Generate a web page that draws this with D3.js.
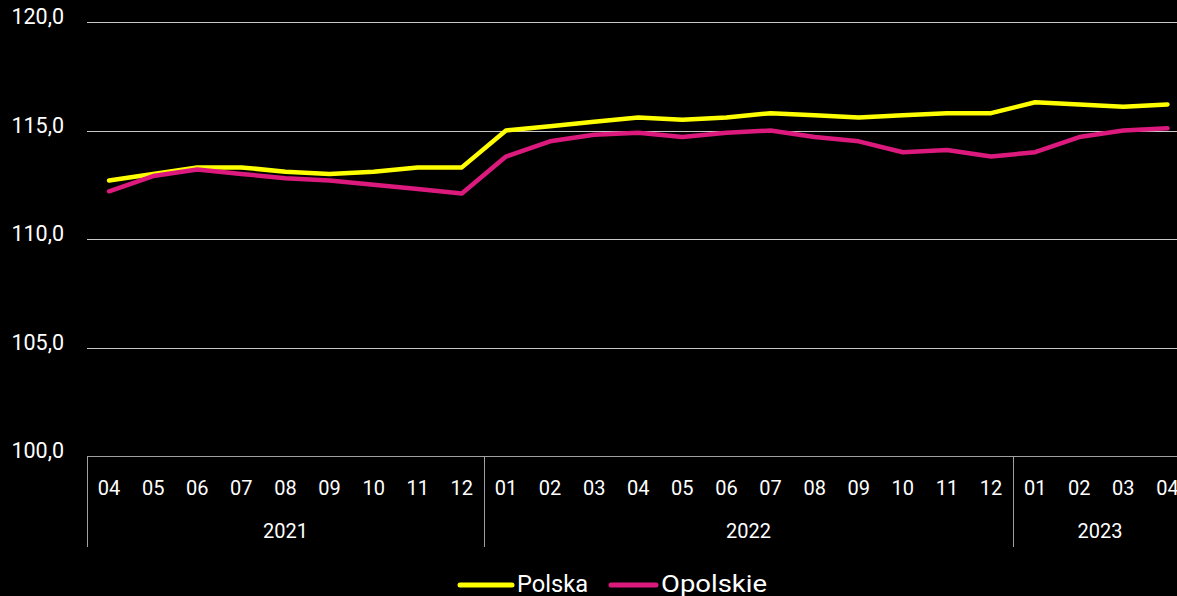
<!DOCTYPE html>
<html>
<head>
<meta charset="utf-8">
<script src="https://cdn.jsdelivr.net/npm/d3@7"></script>
<style>
  html, body { margin: 0; padding: 0; background: #000; }
  svg text { font-family: "Roboto", "Noto Sans", sans-serif; fill: #fff; }
</style>
</head>
<body>
<div id="chart"></div>
<script>
const months = ["04","05","06","07","08","09","10","11","12",
                "01","02","03","04","05","06","07","08","09","10","11","12",
                "01","02","03","04"]
const years = [
  {label: "2021", count: 9},
  {label: "2022", count: 12},
  {label: "2023", count: 4}
]
const polska = [112.7,113.0,113.3,113.3,113.1,113.0,113.1,113.3,113.3,
                115.0,115.2,115.4,115.6,115.5,115.6,115.8,115.7,115.6,115.7,115.8,115.8,
                116.3,116.2,116.1,116.2]
const opolskie = [112.2,112.9,113.2,113.0,112.8,112.7,112.5,112.3,112.1,
                  113.8,114.5,114.8,114.9,114.7,114.9,115.0,114.7,114.5,114.0,114.1,113.8,
                  114.0,114.7,115.0,115.1]
const yTicks = [100, 105, 110, 115, 120]
const series = [
  {name: "Polska", values: polska, color: "#ffff00"},
  {name: "Opolskie", values: opolskie, color: "#dc1a7e"}
]

const width = 1177
const height = 596
const margin = {top: 22, left: 87, bottom: 140}

const svg = d3.select("#chart")
    .append("svg")
    .attr("width", width)
    .attr("height", height)

svg.append("rect")
    .attr("width", width).attr("height", height)
    .attr("fill", "#000")

const idx = months.map((d, i) => i)
const x = d3.scaleBand()
    .domain(idx)
    .range([margin.left, margin.left + 25 * 44.1])

const y = d3.scaleLinear()
    .domain([100, 120])
    .range([height - margin.bottom, margin.top])

// grid
svg.append("g")
    .selectAll("line")
    .data(yTicks.filter(d => d > 100))
    .join("line")
    .attr("x1", margin.left).attr("x2", width)
    .attr("y1", d => Math.round(y(d)) + 0.5)
    .attr("y2", d => Math.round(y(d)) + 0.5)
    .attr("stroke", "#c8c8c8")
    .attr("stroke-width", 1)

// y labels
svg.append("g")
    .selectAll("text")
    .data(yTicks)
    .join("text")
    .attr("x", 64)
    .attr("y", d => y(d))
    .attr("dy", "0.1em")
    .attr("text-anchor", "end")
    .style("font-size", "21.5px")
    .text(d => d3.format(".1f")(d).replace(".", ","))

// x axis baseline
const base = Math.round(y(100)) + 0.5
svg.append("line")
    .attr("x1", margin.left).attr("x2", width)
    .attr("y1", base).attr("y2", base)
    .attr("stroke", "#a0a0a0")

// year separators
let bounds = [0]
years.forEach(yr => bounds.push(bounds[bounds.length - 1] + yr.count))
svg.append("g")
    .selectAll("line")
    .data(bounds.slice(0, 3))
    .join("line")
    .attr("x1", d => Math.round(x(d)) + 0.5)
    .attr("x2", d => Math.round(x(d)) + 0.5)
    .attr("y1", base).attr("y2", 547)
    .attr("stroke", "#a0a0a0")

// month labels
svg.append("g")
    .selectAll("text")
    .data(months)
    .join("text")
    .attr("x", (d, i) => x(i) + x.bandwidth() / 2)
    .attr("y", 495)
    .attr("text-anchor", "middle")
    .style("font-size", "20px")
    .text(d => d)

// year labels, centred on the visible part of each year
svg.append("g")
    .selectAll("text")
    .data(years)
    .join("text")
    .attr("x", (d, i) => {
        const x0 = x(bounds[i])
        const x1 = Math.min(x(bounds[i + 1] - 1) + x.bandwidth(), width + 10)
        return (x0 + x1) / 2
    })
    .attr("y", 538)
    .attr("text-anchor", "middle")
    .style("font-size", "20px")
    .text(d => d.label)

// lines
const line = d3.line()
    .x((d, i) => x(i) + x.bandwidth() / 2)
    .y(d => y(d))

svg.append("g")
    .selectAll("path")
    .data(series)
    .join("path")
    .attr("fill", "none")
    .attr("stroke", d => d.color)
    .attr("stroke-width", 4.5)
    .attr("stroke-linejoin", "round")
    .attr("stroke-linecap", "round")
    .attr("d", d => line(d.values))

// legend
const legendPos = [{lx: 460, tx: 517}, {lx: 611, tx: 661}]
const legend = svg.append("g")
    .selectAll("g")
    .data(series)
    .join("g")
legend.append("line")
    .attr("x1", (d, i) => legendPos[i].lx)
    .attr("x2", (d, i) => legendPos[i].tx - 5)
    .attr("y1", 585).attr("y2", 585)
    .attr("stroke", d => d.color)
    .attr("stroke-width", 5)
    .attr("stroke-linecap", "round")
legend.append("text")
    .attr("x", (d, i) => legendPos[i].tx)
    .attr("y", 592)
    .attr("textLength", (d, i) => i === 0 ? 71 : 106)
    .attr("lengthAdjust", "spacingAndGlyphs")
    .style("font-size", "24px")
    .text(d => d.name)
</script>
</body>
</html>
